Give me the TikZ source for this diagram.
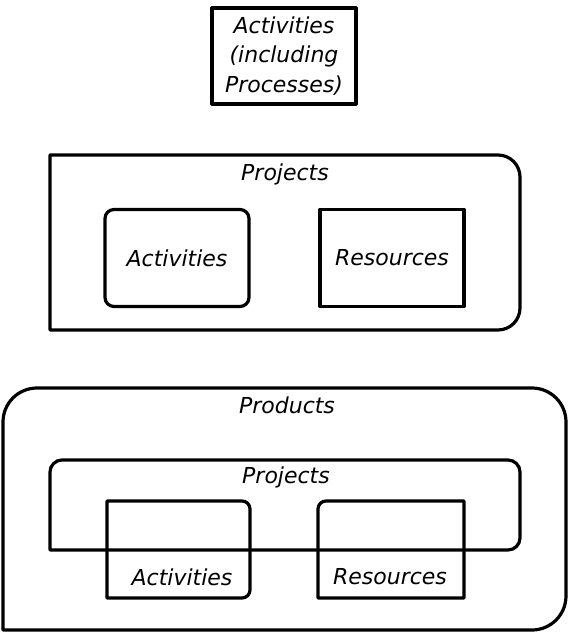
\documentclass[tikz,border=0pt]{standalone}
\usepackage{fontspec}
\setmainfont{DejaVu Sans}
\usetikzlibrary{positioning}

\begin{document}
\begin{tikzpicture}[x=1pt,y=-1pt,line width=3.2pt,line join=round,line cap=round,
every node/.style={font=\fontsize{22}{29.5}\selectfont\itshape, align=center, inner sep=0pt},
box/.style={draw, minimum width=144pt, minimum height=97pt},
container/.style={draw, rounded corners=#1}]
\useasboundingbox (0,0) rectangle (569,633);
% top
\node[box, minimum height=96pt] (proc) at (284,56) {Activities\\(including\\Processes)};
% middle
\draw (50,330) -- (50,155) [rounded corners=22pt] -- (520,155) -- (520,330) [sharp corners] -- cycle;
\node (proj1) at (285,174) {Projects};
\node[box, rounded corners=9pt] (act1) at (177,258) {Activities};
\node[box] (res1) at (392,258) {Resources};
% bottom
\draw[container=34pt] (3,630) -- (3,388) -- (566,388) -- (566,630) [sharp corners] -- cycle;
\node (prod) at (287,405) {Products};
\draw[container=12pt] (50,550) -- (50,460) -- (520,460) -- (520,550) [sharp corners] -- cycle;
\node (proj2) at (286,477) {Projects};
\draw (107,501) [rounded corners=8pt] -- (250,501) -- (250,598) [sharp corners] -- (107,598) -- cycle;
\draw (464,598) -- (318,598) [rounded corners=8pt] -- (318,501) [sharp corners] -- (464,501) -- cycle;
\node (act2) at (182,577) {Activities};
\node (res2) at (390,577) {Resources};
\end{tikzpicture}
\end{document}
